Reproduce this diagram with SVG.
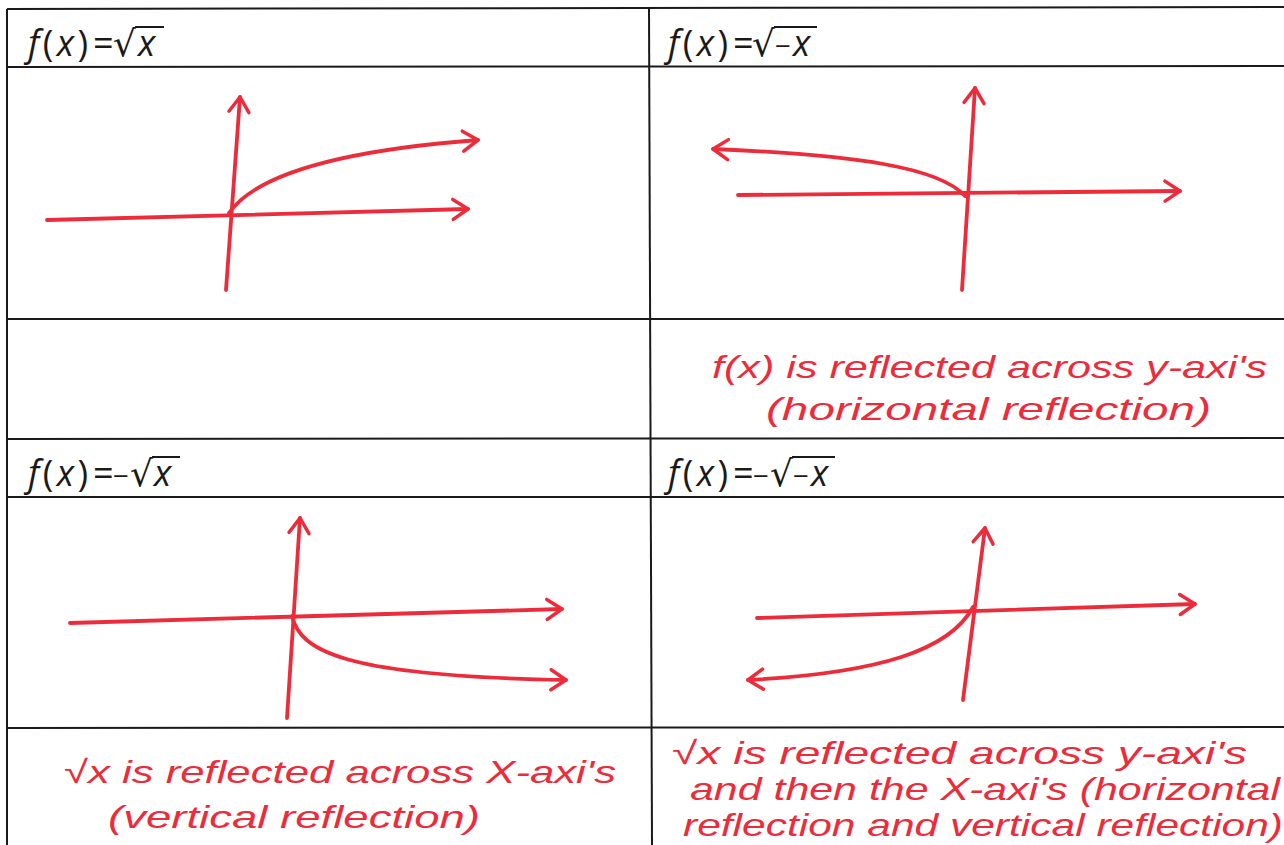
<svg xmlns="http://www.w3.org/2000/svg" width="1284" height="845" viewBox="0 0 1284 845">
  <defs>
    <marker id="arr" markerUnits="userSpaceOnUse" markerWidth="40" markerHeight="40" viewBox="-20 -20 40 40" refX="0" refY="0" orient="auto">
      <path d="M-15,-10 L0,0 L-15,10" fill="none" stroke="#ec2b3b" stroke-width="3.5" stroke-linecap="round" stroke-linejoin="round"/>
    </marker>
    <style>
      .grid { stroke: #1a1a1a; stroke-width: 2; fill: none; }
      .hdr { font-family: "Open Sans", "Liberation Sans", sans-serif; font-size: 36px; fill: #1a1a1a; }
      .rad { font-family: "DejaVu Sans", sans-serif; }
      .mn { font-size: 28px; }
      .it { font-style: italic; }
      .vin { stroke: #1a1a1a; stroke-width: 2; }
      .red { stroke: #ec2b3b; stroke-width: 3.8; fill: none; stroke-linecap: round; }
      .ax { marker-end: url(#arr); }
      .hand { font-family: "Liberation Sans", "DejaVu Sans", sans-serif; font-style: italic; font-size: 32px; fill: #ec2b3b; }
    </style>
  </defs>
  <rect width="1284" height="845" fill="#ffffff"/>

  <g id="grid">
    <line class="grid" x1="7" y1="9" x2="1284" y2="7"/>
    <line class="grid" x1="7" y1="67" x2="1284" y2="66"/>
    <line class="grid" x1="7" y1="319" x2="1284" y2="319"/>
    <line class="grid" x1="7" y1="439" x2="1284" y2="438"/>
    <line class="grid" x1="7" y1="497" x2="1284" y2="497"/>
    <line class="grid" x1="7" y1="728" x2="1284" y2="727"/>
    <line class="grid" x1="7" y1="9" x2="7" y2="845"/>
    <line class="grid" x1="649" y1="9" x2="652" y2="845"/>
  </g>

  <g id="header-sqrt-x">
    <text class="hdr" y="56"><tspan x="28" textLength="60" lengthAdjust="spacing"><tspan class="it">f</tspan>(<tspan class="it">x</tspan>)</tspan><tspan x="93">=</tspan><tspan class="rad" x="113">√</tspan><tspan class="it" x="138">x</tspan></text>
    <line class="vin" x1="135" y1="27" x2="164" y2="27"/>
  </g>

  <g id="header-sqrt-neg-x">
    <text class="hdr" y="56"><tspan x="668" textLength="60" lengthAdjust="spacing"><tspan class="it">f</tspan>(<tspan class="it">x</tspan>)</tspan><tspan x="733">=</tspan><tspan class="rad" x="752">√</tspan><tspan class="mn" x="775">−</tspan><tspan class="it" x="793">x</tspan></text>
    <line class="vin" x1="774" y1="27" x2="817" y2="27"/>
  </g>

  <g id="header-neg-sqrt-x">
    <text class="hdr" y="486"><tspan x="28" textLength="60" lengthAdjust="spacing"><tspan class="it">f</tspan>(<tspan class="it">x</tspan>)</tspan><tspan x="93">=</tspan><tspan class="mn" x="113">−</tspan><tspan class="rad" x="130">√</tspan><tspan class="it" x="154">x</tspan></text>
    <line class="vin" x1="152" y1="457" x2="180" y2="457"/>
  </g>

  <g id="header-neg-sqrt-neg-x">
    <text class="hdr" y="486"><tspan x="668" textLength="60" lengthAdjust="spacing"><tspan class="it">f</tspan>(<tspan class="it">x</tspan>)</tspan><tspan x="733">=</tspan><tspan class="mn" x="753">−</tspan><tspan class="rad" x="770">√</tspan><tspan class="mn" x="793">−</tspan><tspan class="it" x="811">x</tspan></text>
    <line class="vin" x1="792" y1="457" x2="835" y2="457"/>
  </g>

  <g id="graph-sqrt-x">
    <path class="red ax" d="M47,220 L468,209"/>
    <path class="red ax" d="M226,290 L240,97"/>
    <path class="red ax" d="M229,213 C252,180 320,152 478,140"/>
  </g>

  <g id="graph-sqrt-neg-x">
    <path class="red ax" d="M738,195 L1180,191"/>
    <path class="red ax" d="M962,290 L975,88"/>
    <path class="red ax" d="M965,196 C940,168 860,155 713,149"/>
  </g>

  <g id="graph-neg-sqrt-x">
    <path class="red ax" d="M70,623 L562,609"/>
    <path class="red ax" d="M287,718 L300,518"/>
    <path class="red ax" d="M292,616 C300,650 340,676 566,680"/>
  </g>

  <g id="graph-neg-sqrt-neg-x">
    <path class="red ax" d="M757,618 L1195,604"/>
    <path class="red ax" d="M963,700 L985,528"/>
    <path class="red ax" d="M973,607 C950,650 880,673 748,680"/>
  </g>

  <g id="note-top-right">
    <text class="hand" x="712" y="378" textLength="555" lengthAdjust="spacingAndGlyphs">f(x) is reflected across y-axi's</text>
    <text class="hand" x="766" y="420" textLength="445" lengthAdjust="spacingAndGlyphs">(horizontal reflection)</text>
  </g>

  <g id="note-bottom-left">
    <text class="hand" x="64" y="783" textLength="552" lengthAdjust="spacingAndGlyphs">√x is reflected across X-axi's</text>
    <text class="hand" x="108" y="828" textLength="372" lengthAdjust="spacingAndGlyphs">(vertical reflection)</text>
  </g>

  <g id="note-bottom-right">
    <text class="hand" x="672" y="764" textLength="575" lengthAdjust="spacingAndGlyphs">√x is reflected across y-axi's</text>
    <text class="hand" x="690" y="800" textLength="590" lengthAdjust="spacingAndGlyphs">and then the X-axi's (horizontal</text>
    <text class="hand" x="683" y="836" textLength="600" lengthAdjust="spacingAndGlyphs">reflection and vertical reflection)</text>
  </g>
</svg>
